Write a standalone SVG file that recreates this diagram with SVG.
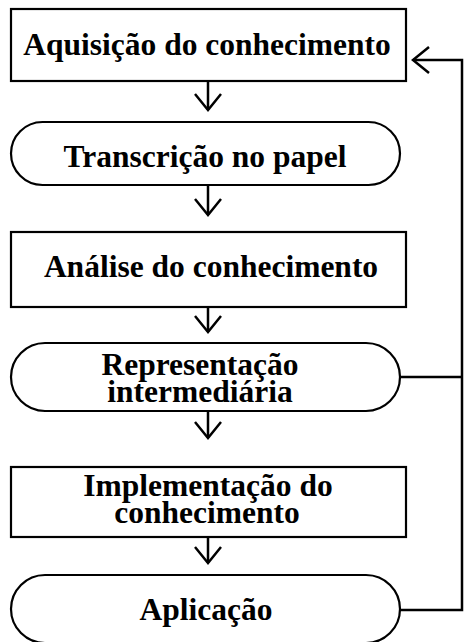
<svg xmlns="http://www.w3.org/2000/svg" width="464" height="642" viewBox="0 0 464 642">
<style>
.n{fill:#fff;stroke:#000;stroke-width:2.2}
.t{font-family:"Liberation Serif","Times New Roman",serif;font-weight:bold;font-size:31.5px;fill:#000;text-anchor:middle}
.c{fill:none;stroke:#000;stroke-width:2.5}
</style>
<defs>
<marker id="ah" viewBox="0 0 20 30" refX="18" refY="15" markerWidth="20" markerHeight="30" markerUnits="userSpaceOnUse" orient="auto">
<path d="M2,2 L18,15 L2,28" fill="none" stroke="#000" stroke-width="2.5"/>
</marker>
</defs>
<g id="n1"><rect class="n" x="11" y="9" width="395" height="72"/><text class="t" x="207" y="55">Aquisição do conhecimento</text></g>
<g id="n2"><rect class="n" x="11" y="122" width="389" height="63" rx="31.5"/><text class="t" x="205" y="167">Transcrição no papel</text></g>
<g id="n3"><rect class="n" x="11" y="232" width="395" height="75"/><text class="t" x="211" y="277">Análise do conhecimento</text></g>
<g id="n4"><rect class="n" x="11" y="343" width="389" height="68" rx="34"/><text class="t" x="200" y="375">Representação</text><text class="t" x="200" y="402">intermediária</text></g>
<g id="n5"><rect class="n" x="11" y="467" width="395" height="70"/><text class="t" x="208" y="496">Implementação do</text><text class="t" x="207" y="523">conhecimento</text></g>
<g id="n6"><rect class="n" x="11" y="575" width="389" height="68" rx="34"/><text class="t" x="206" y="620">Aplicação</text></g>
<g id="connectors">
<path class="c" d="M208,82 V110" marker-end="url(#ah)"/>
<path class="c" d="M208,186 V215" marker-end="url(#ah)"/>
<path class="c" d="M208,308 V332" marker-end="url(#ah)"/>
<path class="c" d="M208,412 V438" marker-end="url(#ah)"/>
<path class="c" d="M208,538 V563" marker-end="url(#ah)"/>
<path class="c" d="M400,610 H462 V60 H413" marker-end="url(#ah)"/>
<path class="c" d="M400,377 H462"/>
</g>
</svg>
